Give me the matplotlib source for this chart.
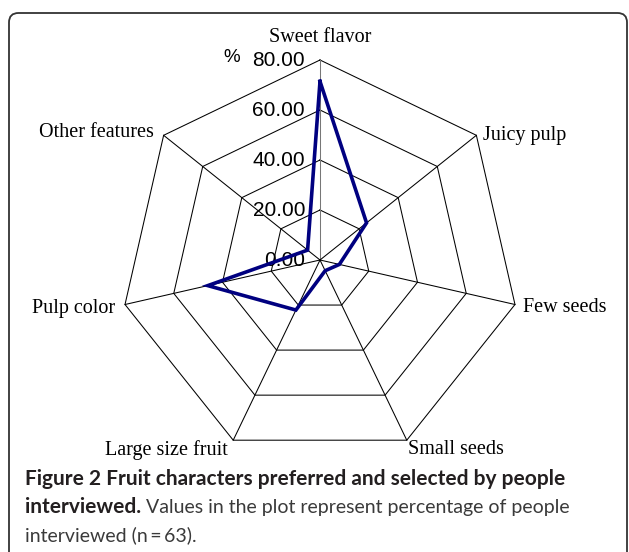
import numpy as np
import matplotlib
matplotlib.use('Agg')
import matplotlib.pyplot as plt
from matplotlib.patches import FancyBboxPatch

# data (percent of people interviewed, n = 63)
categories = ['Sweet flavor', 'Juicy pulp', 'Few seeds', 'Small seeds',
              'Large size fruit', 'Pulp color', 'Other features']
values = [71.43, 23.81, 7.94, 4.76, 22.22, 46.03, 6.35]
rings = [0, 20, 40, 60, 80]
ring_labels = ['0.00', '20.00', '40.00', '60.00', '80.00']

W, H = 629, 552
fig = plt.figure(figsize=(W / 100, H / 100), dpi=100)

# rounded frame around the figure panel
frame = FancyBboxPatch((9 / W, -0.2), 618 / W, (H - 13) / H + 0.2,
                       boxstyle='round,pad=0,rounding_size=0.015',
                       transform=fig.transFigure, fill=False,
                       ec='#333333', lw=1.3, mutation_aspect=W / H)
fig.patches.append(frame)

# centre of the radar at pixel (320, 260), 80 % -> 200 px
ax = fig.add_axes([70 / W, 42 / H, 500 / W, 500 / H])
ax.set_xlim(-100, 100)
ax.set_ylim(-100, 100)
ax.axis('off')

n = len(categories)
ang = np.arange(n) * 2 * np.pi / n
sx, sy = np.sin(ang), np.cos(ang)

# polygon rings
for r in rings[1:]:
    ax.plot(np.append(r * sx, r * sx[0]), np.append(r * sy, r * sy[0]),
            color='black', lw=0.75, zorder=1)
# spokes
for i in range(n):
    ax.plot([0, rings[-1] * sx[i]], [0, rings[-1] * sy[i]],
            color='#777777' if i == 0 else 'black', lw=0.75, zorder=1)

# data line
v = np.array(values)
ax.plot(np.append(v * sx, v[0] * sx[0]), np.append(v * sy, v[0] * sy[0]),
        color='#000080', lw=2.6, zorder=3, solid_joinstyle='miter')

# ring labels
for r, lab in zip(rings, ring_labels):
    ax.text(-6, r, lab, ha='right', va='center', fontsize=15,
            family='Liberation Sans', zorder=2)
ax.text(-32, rings[-1] + 1, '%', ha='right', va='center', fontsize=13.5,
        family='Liberation Sans')

# category labels
offs = [(0, 16), (5, 0), (6, -2), (1, -7), (-4, -7), (-7, -3), (-7, 2)]
has = ['center', 'left', 'left', 'left', 'right', 'right', 'right']
for i, c in enumerate(categories):
    ax.annotate(c, (rings[-1] * sx[i], rings[-1] * sy[i]),
                xytext=offs[i], textcoords='offset points',
                ha=has[i], va='center', fontsize=14.5,
                family='Liberation Serif')

# caption
cfont = 'Lato'
fs = 15
fs_reg = 14
fig.text(25 / W, 1 - 485 / H,
         'Figure 2 Fruit characters preferred and selected by people',
         fontsize=fs, fontweight='bold', family=cfont, color='#231f20',
         va='baseline')
t2 = fig.text(25 / W, 1 - 513 / H, 'interviewed.', fontsize=fs,
              fontweight='bold', family=cfont, color='#231f20', va='baseline')
fig.canvas.draw()
bb = t2.get_window_extent()
fig.text((bb.x1 + 5) / W, 1 - 513 / H,
         'Values in the plot represent percentage of people',
         fontsize=fs_reg, family=cfont, color='#3a3a3a', va='baseline')
fig.text(25 / W, 1 - 541 / H, 'interviewed (n\u2009=\u200963).',
         fontsize=fs_reg, family=cfont, color='#3a3a3a', va='baseline')

fig.savefig('out.png', dpi=100)
